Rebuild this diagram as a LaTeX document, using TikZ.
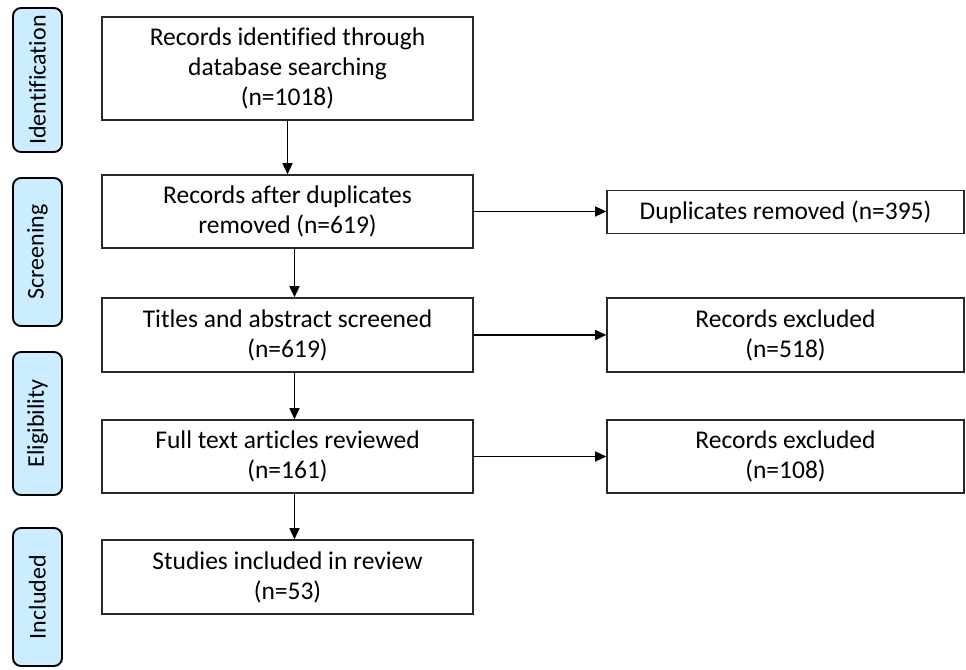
\documentclass[tikz,border=0pt]{standalone}
\usepackage{fontspec}
\setmainfont{Carlito}[Ligatures=CommonOff]
\usetikzlibrary{arrows.meta}
\definecolor{stagefill}{RGB}{204,236,255}
\definecolor{edge}{RGB}{40,40,40}
\begin{document}
\begin{tikzpicture}[x=1pt,y=-1pt,
  box/.style={draw=edge,line width=1.6pt,inner sep=0pt,align=center,
    font=\fontsize{25.5}{30}\selectfont,minimum width=371pt},
  sidebox/.style={draw=edge,line width=1.6pt,inner sep=0pt,align=center,
    font=\fontsize{25.5}{30}\selectfont,minimum width=357pt},
  stage/.style={draw=black,line width=1.9pt,fill=stagefill,rounded corners=8pt,
    rotate=90,inner sep=0pt,minimum height=49pt,font=\fontsize{24}{26}\selectfont},
  arr/.style={draw=black,line width=1.5pt,-{Triangle[length=11pt,width=10pt]}}]
\useasboundingbox (0,0) rectangle (966,669);
% stage labels
\node[stage,minimum width=144pt] (sid) at (37.5,80) {Identification};
\node[stage,minimum width=148pt] (ssc) at (37.5,252) {Screening};
\node[stage,minimum width=143pt] (sel) at (37.5,423.5) {Eligibility};
\node[stage,minimum width=138pt] (sin) at (37.5,597) {Included};
% main boxes
\node[box,minimum height=103pt] (b1) at (287.5,68.5) {Records identified through\\database searching\\(n=1018)};
\node[box,minimum height=73pt] (b2) at (287.5,211.5) {Records after duplicates\\removed (n=619)};
\node[box,minimum height=74pt] (b3) at (287.5,335) {Titles and abstract screened\\(n=619)};
\node[box,minimum height=73pt] (b4) at (287.5,456.5) {Full text articles reviewed\\(n=161)};
\node[box,minimum height=74pt] (b5) at (287.5,577) {Studies included in review\\(n=53)};
% side boxes
\node[sidebox,minimum height=43pt] (d1) at (785.5,212) {Duplicates removed (n=395)};
\node[sidebox,minimum height=74pt] (e1) at (785.5,335) {Records excluded\\(n=518)};
\node[sidebox,minimum height=73pt] (e2) at (785.5,456.5) {Records excluded\\(n=108)};
% connectors
\draw[arr] (b1.south) -- (b2.north);
\draw[arr] ([xshift=7pt]b2.south) -- ([xshift=7pt]b3.north);
\draw[arr] ([xshift=7pt]b3.south) -- ([xshift=7pt]b4.north);
\draw[arr] ([xshift=7pt]b4.south) -- ([xshift=7pt]b5.north);
\draw[arr] (b2.east) -- (d1.west |- b2.east);
\draw[arr] (b3.east) -- (e1.west);
\draw[arr] (b4.east) -- (e2.west);
\end{tikzpicture}
\end{document}
